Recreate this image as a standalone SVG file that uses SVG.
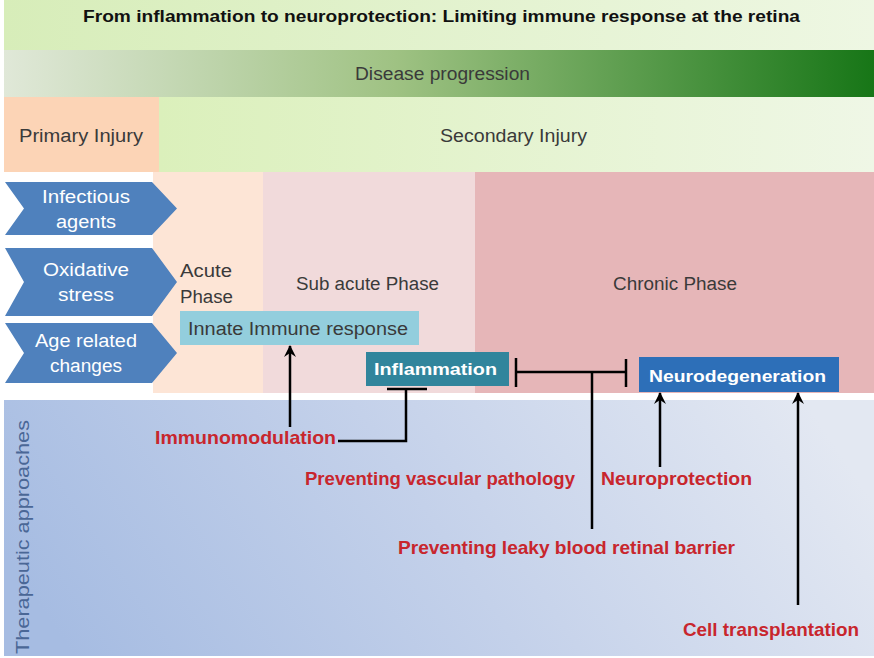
<svg xmlns="http://www.w3.org/2000/svg" width="874" height="658" viewBox="0 0 874 658">
<defs>
<linearGradient id="gTitle" x1="0" y1="0" x2="1" y2="0"><stop offset="0" stop-color="#d7edb9"/><stop offset="1" stop-color="#eef7e3"/></linearGradient>
<linearGradient id="gProg" x1="0" y1="0" x2="1" y2="0"><stop offset="0" stop-color="#e0e8d8"/><stop offset="0.45" stop-color="#9fc283"/><stop offset="1" stop-color="#177617"/></linearGradient>
<linearGradient id="gSec" x1="0" y1="0" x2="1" y2="0"><stop offset="0" stop-color="#dbf0bb"/><stop offset="1" stop-color="#eff7e6"/></linearGradient>
<linearGradient id="gTher" x1="0" y1="0.6" x2="1" y2="0.4"><stop offset="0" stop-color="#a6bce2"/><stop offset="0.5" stop-color="#c4d1ea"/><stop offset="1" stop-color="#e3e8f2"/></linearGradient>
<marker id="arr" viewBox="0 0 12 12" refX="11" refY="6" markerWidth="12" markerHeight="12" markerUnits="userSpaceOnUse" orient="auto">
<path d="M0,0 L12,6 L0,12 L4,6 Z" fill="#000"/>
</marker>
<style>
text{font-family:"Liberation Sans",Arial,sans-serif}
.dark{fill:#3a3a3a;font-size:18px}
.chev{fill:#4f81bd}
.cw{fill:#fff;font-size:18px;text-anchor:middle}
.red{fill:#c8262d;font-size:19px;font-weight:bold}
.wb{fill:#fff;font-size:17px;font-weight:bold}
.ln{stroke:#000;stroke-width:2.5;fill:none}
</style>
</defs>
<rect width="874" height="658" fill="#fff"/>
<g id="title">
<rect x="4" y="0" width="870" height="50" fill="url(#gTitle)"/>
<text x="83" y="22" font-size="17" font-weight="bold" fill="#111" textLength="717" lengthAdjust="spacingAndGlyphs">From inflammation to neuroprotection: Limiting immune response at the retina</text>
</g>
<g id="progression">
<rect x="4" y="50" width="870" height="47" fill="url(#gProg)"/>
<text x="355" y="80" class="dark" textLength="175" lengthAdjust="spacingAndGlyphs">Disease progression</text>
</g>
<g id="primary">
<rect x="4" y="97" width="155" height="75" fill="#fcd4b6"/>
<text x="19" y="142" class="dark" textLength="124" lengthAdjust="spacingAndGlyphs">Primary Injury</text>
</g>
<g id="secondary">
<rect x="159" y="97" width="715" height="75" fill="url(#gSec)"/>
<text x="440" y="142" class="dark" textLength="147" lengthAdjust="spacingAndGlyphs">Secondary Injury</text>
</g>
<g id="acute">
<rect x="153" y="172" width="110" height="221" fill="#fde5d6"/>
<text x="180" y="277" class="dark" font-size="19" textLength="52" lengthAdjust="spacingAndGlyphs">Acute</text>
<text x="180" y="303" class="dark" font-size="19" textLength="53" lengthAdjust="spacingAndGlyphs">Phase</text>
</g>
<g id="subacute">
<rect x="263" y="172" width="212" height="221" fill="#f1dadb"/>
<text x="296" y="290" class="dark" textLength="143" lengthAdjust="spacingAndGlyphs">Sub acute Phase</text>
</g>
<g id="chronic">
<rect x="475" y="172" width="399" height="221" fill="#e6b6b8"/>
<text x="613" y="290" class="dark" textLength="124" lengthAdjust="spacingAndGlyphs">Chronic Phase</text>
</g>
<g id="infectious">
<polygon class="chev" points="5,182 152,182 177,208.5 152,235 5,235 24,208.5"/>
<text x="86" y="203" class="cw" textLength="88" lengthAdjust="spacingAndGlyphs">Infectious</text>
<text x="86" y="228" class="cw" textLength="60" lengthAdjust="spacingAndGlyphs">agents</text>
</g>
<g id="oxidative">
<polygon class="chev" points="5,248 152,248 177,282 152,316 5,316 24,282"/>
<text x="86" y="276" class="cw" textLength="86" lengthAdjust="spacingAndGlyphs">Oxidative</text>
<text x="86" y="301" class="cw" textLength="56" lengthAdjust="spacingAndGlyphs">stress</text>
</g>
<g id="age">
<polygon class="chev" points="5,323 152,323 177,353 152,383 5,383 24,353"/>
<text x="86" y="347" class="cw" textLength="102" lengthAdjust="spacingAndGlyphs">Age related</text>
<text x="86" y="372" class="cw" textLength="72" lengthAdjust="spacingAndGlyphs">changes</text>
</g>
<g id="therapeutic">
<rect x="4" y="400" width="870" height="256" fill="url(#gTher)"/>
<text x="29" y="537" transform="rotate(-90 29 537)" text-anchor="middle" font-size="19" fill="#4a6796" textLength="234" lengthAdjust="spacingAndGlyphs">Therapeutic  approaches</text>
</g>
<g id="innate">
<rect x="180" y="311" width="239" height="34" fill="#93cedd"/>
<text x="188" y="335" class="dark" font-size="19" textLength="220" lengthAdjust="spacingAndGlyphs">Innate Immune response</text>
</g>
<g id="inflammation">
<rect x="366" y="352" width="143" height="34" fill="#31859c"/>
<text x="374" y="375" class="wb" textLength="123" lengthAdjust="spacingAndGlyphs">Inflammation</text>
</g>
<g id="neurodegeneration">
<rect x="639" y="357" width="200" height="35" fill="#2d6fb8"/>
<text x="649" y="382" class="wb" textLength="177" lengthAdjust="spacingAndGlyphs">Neurodegeneration</text>
</g>
<g id="immunomodulation">
<text x="155" y="444" class="red" textLength="181" lengthAdjust="spacingAndGlyphs">Immunomodulation</text>
</g>
<g id="vascular">
<text x="305" y="485" class="red" textLength="270" lengthAdjust="spacingAndGlyphs">Preventing vascular pathology</text>
</g>
<g id="neuroprotection">
<text x="601" y="485" class="red" textLength="151" lengthAdjust="spacingAndGlyphs">Neuroprotection</text>
</g>
<g id="leaky">
<text x="398" y="554" class="red" textLength="337" lengthAdjust="spacingAndGlyphs">Preventing leaky blood retinal barrier</text>
</g>
<g id="transplant">
<text x="683" y="636" class="red" textLength="176" lengthAdjust="spacingAndGlyphs">Cell transplantation</text>
</g>
<g id="connectors">
<line class="ln" x1="290" y1="427" x2="290" y2="346" marker-end="url(#arr)"/>
<polyline class="ln" points="338,441 406,441 406,389"/>
<line class="ln" x1="387" y1="389" x2="427" y2="389"/>
<line class="ln" x1="516" y1="372" x2="626" y2="372"/>
<line class="ln" x1="516" y1="358" x2="516" y2="387"/>
<line class="ln" x1="626" y1="359" x2="626" y2="387"/>
<line class="ln" x1="592" y1="372" x2="592" y2="529"/>
<line class="ln" x1="660" y1="467" x2="660" y2="393" marker-end="url(#arr)"/>
<line class="ln" x1="798" y1="605" x2="798" y2="393" marker-end="url(#arr)"/>
</g>
</svg>
